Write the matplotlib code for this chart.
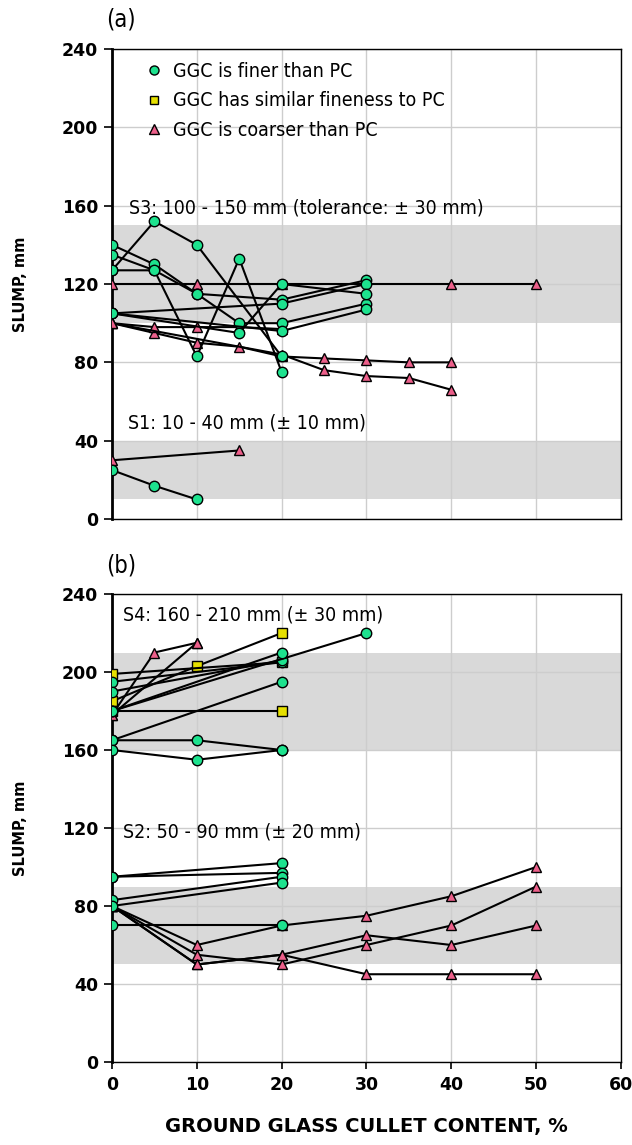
import matplotlib
matplotlib.use("Agg")
import matplotlib.pyplot as plt
from matplotlib.lines import Line2D
from matplotlib import font_manager as fm

# ---------------- data ----------------
X_TICKS = [0, 10, 20, 30, 40, 50, 60]
Y_TICKS = [0, 40, 80, 120, 160, 200, 240]

# panel (a) - GGC finer than PC (circles)
A_FINER = [
    ([0, 5, 10, 20], [127, 152, 140, 83]),
    ([0, 5, 10, 15, 20], [127, 127, 83, 133, 75]),
    ([0, 5, 10, 20, 30], [140, 130, 115, 112, 122]),
    ([0, 5, 10, 15, 20, 30], [135, 127, 115, 100, 100, 110]),
    ([0, 20, 30], [105, 110, 120]),
    ([0, 15, 20, 30], [105, 95, 120, 115]),
    ([0, 20, 30], [105, 96, 107]),
    ([0, 5, 10], [25, 17, 10]),
]
# panel (a) - GGC coarser than PC (triangles)
A_COARSER = [
    ([0, 10, 20, 40, 50], [120, 120, 120, 120, 120]),
    ([0, 5, 10, 15, 20, 25, 30, 35, 40], [100, 95, 90, 88, 83, 82, 81, 80, 80]),
    ([0, 5, 10, 15, 20], [100, 98, 98, 98, 97]),
    ([0, 20, 25, 30, 35, 40], [100, 84, 76, 73, 72, 66]),
    ([0, 15], [30, 35]),
]

# panel (b) - finer (circles)
B_FINER = [
    ([0, 20], [195, 205]),
    ([0, 20], [190, 206]),
    ([0, 30], [180, 220]),
    ([0, 20], [180, 210]),
    ([0, 20], [165, 195]),
    ([0, 10, 20], [165, 165, 160]),
    ([0, 10, 20], [160, 155, 160]),
    ([0, 20], [95, 102]),
    ([0, 20], [95, 97]),
    ([0, 20], [83, 95]),
    ([0, 20], [80, 92]),
    ([0, 20], [70, 70]),
]
# panel (b) - similar fineness (squares)
B_SIMILAR = [
    ([0, 10, 20], [185, 203, 220]),
    ([0, 20], [199, 205]),
    ([0, 20], [180, 180]),
]
# panel (b) - coarser (triangles)
B_COARSER = [
    ([0, 5, 10], [178, 210, 215]),
    ([0, 10], [178, 215]),
    ([0, 10, 20, 30, 40, 50], [80, 60, 70, 75, 85, 100]),
    ([0, 10, 20, 30, 40, 50], [80, 50, 55, 65, 60, 70]),
    ([0, 10, 20, 30, 40, 50], [80, 55, 50, 60, 70, 90]),
    ([0, 10, 20, 30, 40, 50], [80, 50, 55, 45, 45, 45]),
]

A_BANDS = [(100, 150), (10, 40)]
B_BANDS = [(160, 210), (50, 90)]
A_NOTES = [(2.0, 159, "S3: 100 - 150 mm (tolerance: \u00b1 30 mm)"),
           (1.9, 49, "S1: 10 - 40 mm (\u00b1 10 mm)")]
B_NOTES = [(1.3, 229, "S4: 160 - 210 mm (\u00b1 30 mm)"),
           (1.3, 118, "S2: 50 - 90 mm (\u00b1 20 mm)")]

LEGEND_LABELS = ["GGC is finer than PC",
                 "GGC has similar fineness to PC",
                 "GGC is coarser than PC"]

# ---------------- fonts ----------------
_cond = fm.FontProperties(family='DejaVu Sans', stretch='condensed')
_path = fm.findfont(_cond, fallback_to_default=True)
if 'Condensed' in _path:
    REG = dict(family=['DejaVu Sans'], stretch='condensed')
    REG_SIZE = 14
else:
    REG = dict(family=['Open Sans', 'DejaVu Sans'])
    REG_SIZE = 14.5
BOLD = dict(family=['DejaVu Sans'], weight='bold')

# ---------------- style ----------------
C_GREEN = '#1de28e'
C_YELLOW = '#e6e000'
C_PINK = '#ec5f8a'
MS = 7.5
LW = 1.5

fig = plt.figure(figsize=(6.32, 11.45), dpi=100)
axA = fig.add_axes([0.1772, 0.5467, 0.8054, 0.4105])
axB = fig.add_axes([0.1772, 0.0725, 0.8054, 0.4087])


def style(ax, bands, show_x):
    ax.set_xlim(0, 60)
    ax.set_ylim(0, 240)
    ax.set_xticks(X_TICKS)
    ax.set_yticks(Y_TICKS)
    for lo, hi in bands:
        ax.axhspan(lo, hi, color='#d9d9d9', lw=0, zorder=0.2)
    ax.grid(True, color='#cdcdcd', lw=1.0, zorder=0.5)
    ax.set_axisbelow(True)
    for s in ax.spines.values():
        s.set_color('black')
        s.set_linewidth(1.0)
    ax.spines['left'].set_linewidth(2.0)
    ax.tick_params(axis='y', direction='out', length=6, width=1.2, pad=4)
    ax.tick_params(axis='x', direction='out', length=0 if not show_x else 5,
                   width=1.2, labelbottom=show_x, pad=5)
    for lab in ax.get_yticklabels() + ax.get_xticklabels():
        lab.set_fontfamily(BOLD['family'])
        lab.set_fontweight('bold')
        lab.set_fontsize(12.5)
    ax.set_ylabel("SLUMP, mm", fontsize=10.5, **BOLD)
    ax.yaxis.set_label_coords(-0.165, 0.5)


def draw(ax, series, marker, color, ms):
    for xs, ys in series:
        ax.plot(xs, ys, '-', color='black', lw=LW, marker=marker, ms=ms,
                mfc=color, mec='black', mew=1.0, zorder=3)


style(axA, A_BANDS, False)
style(axB, B_BANDS, True)

draw(axA, A_COARSER, '^', C_PINK, MS)
draw(axA, A_FINER, 'o', C_GREEN, MS)
draw(axB, B_COARSER, '^', C_PINK, MS)
draw(axB, B_SIMILAR, 's', C_YELLOW, MS - 0.5)
draw(axB, B_FINER, 'o', C_GREEN, MS)

for x, y, t in A_NOTES:
    axA.text(x, y, t, fontsize=REG_SIZE, va='center', ha='left', zorder=5, **REG)
for x, y, t in B_NOTES:
    axB.text(x, y, t, fontsize=REG_SIZE, va='center', ha='left', zorder=5, **REG)

axA.text(-0.012, 1.062, "(a)", transform=axA.transAxes, fontsize=REG_SIZE + 3,
         ha='left', va='center', **REG)
axB.text(-0.012, 1.062, "(b)", transform=axB.transAxes, fontsize=REG_SIZE + 3,
         ha='left', va='center', **REG)

handles = [
    Line2D([], [], ls='none', marker='o', ms=6.5, mfc=C_GREEN, mec='black'),
    Line2D([], [], ls='none', marker='s', ms=6, mfc=C_YELLOW, mec='black'),
    Line2D([], [], ls='none', marker='^', ms=6.5, mfc=C_PINK, mec='black'),
]
leg_font = fm.FontProperties(size=REG_SIZE, **REG)
axA.legend(handles, LEGEND_LABELS, loc='upper left', bbox_to_anchor=(0.04, 0.998),
           frameon=False, prop=leg_font, handlelength=1.0, handletextpad=0.5,
           labelspacing=0.55, borderaxespad=0.2)

axB.set_xlabel("GROUND GLASS CULLET CONTENT, %", fontsize=14, **BOLD)
axB.xaxis.set_label_coords(0.5, -0.118)

fig.savefig("out.png", dpi=100)
